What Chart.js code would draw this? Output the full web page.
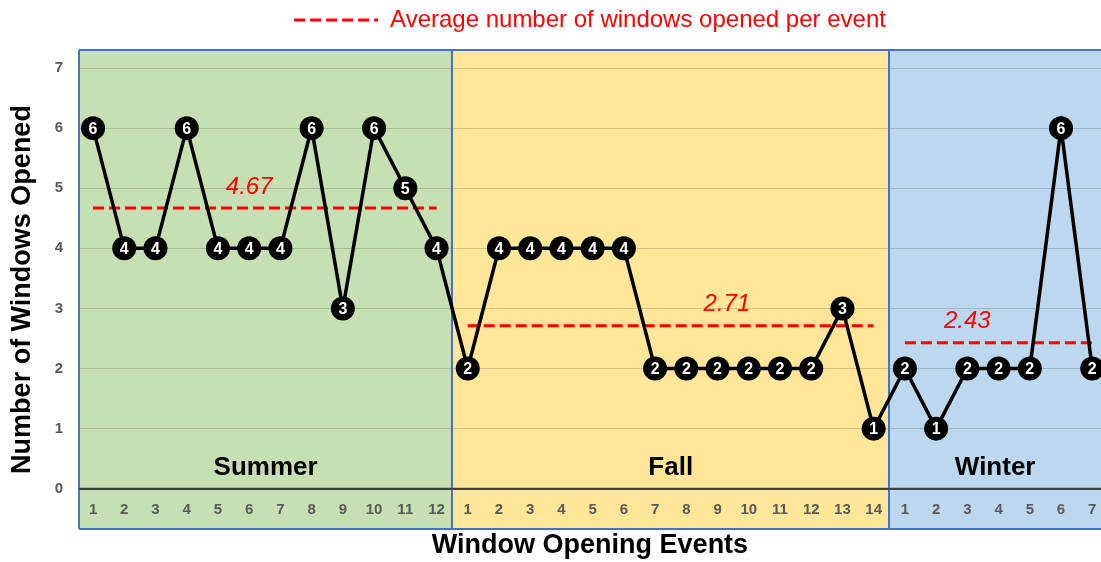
<!DOCTYPE html>
<html>
<head>
<meta charset="utf-8">
<script src="https://cdn.jsdelivr.net/npm/chart.js@4/dist/chart.umd.min.js"></script>
<style>
  html, body { margin: 0; padding: 0; background: #fff; }
  #wrap { width: 1101px; height: 562px; }
</style>
</head>
<body>
<div id="wrap"><canvas id="chartCanvas" width="1101" height="562"></canvas></div>
<script>
// ---- data ----
const seasonNames = ["Summer", "Fall", "Winter"];
const summerValues = [6, 4, 4, 6, 4, 4, 4, 6, 3, 6, 5, 4];
const fallValues = [2, 4, 4, 4, 4, 4, 2, 2, 2, 2, 2, 2, 3, 1];
const winterValues = [2, 1, 2, 2, 2, 6, 2];
const seasonAverages = [4.67, 2.71, 2.43];
const averageLabels = ["4.67", "2.71", "2.43"];
const yTicks = [0, 1, 2, 3, 4, 5, 6, 7];
const legendText = "Average number of windows opened per event";

// ---- style / placement ----
const FONT = "'Liberation Sans', Arial, sans-serif";
const bandColors = ["#C6E0B4", "#FFE699", "#BDD7EE"];
const edgeBlue = "#4472C4";
const avgDash = [11, 5];
const avgLabelX = [6.0, 21.3, 29.0];   // where the average figures sit (event index)
const avgLabelLift = 0.35;
const seasonLabelY = 0.35;
const tickRowY = -0.35;

const seasons = [summerValues, fallValues, winterValues];
const allValues = [].concat(...seasons);

// start/end index (1-based, continuous) of every season
const ranges = [];
let pos = 1;
seasons.forEach(s => {
  ranges.push({ start: pos, end: pos + s.length - 1 });
  pos += s.length;
});

const mainPoints = allValues.map((v, i) => ({ x: i + 1, y: v }));

const avgDatasets = ranges.map((r, i) => ({
  label: legendText,
  data: [{ x: r.start, y: seasonAverages[i] }, { x: r.end, y: seasonAverages[i] }],
  borderColor: "#FF0000",
  backgroundColor: "#FF0000",
  borderWidth: 3,
  borderDash: avgDash,
  pointRadius: 0,
  fill: false
}));

// ===============================
// backgrounds, dividers, labels
// ===============================
const seasonPlugin = {
  id: "seasonPlugin",
  beforeDraw(chart) {
    const { ctx, chartArea, scales } = chart;
    const x = scales.x;
    ctx.save();
    ranges.forEach((r, i) => {
      const left = Math.max(chartArea.left, x.getPixelForValue(r.start - 0.5));
      const right = Math.min(chartArea.right, x.getPixelForValue(r.end + 0.5));
      ctx.fillStyle = bandColors[i];
      ctx.fillRect(left, chartArea.top, right - left, chartArea.bottom - chartArea.top);
    });
    ctx.restore();
  },
  beforeDatasetsDraw(chart) {
    const { ctx, chartArea, scales } = chart;
    const x = scales.x, y = scales.y;
    ctx.save();

    // event numbers inside the bottom strip
    ctx.font = "bold 15px " + FONT;
    ctx.fillStyle = "#595959";
    ctx.textAlign = "center";
    ctx.textBaseline = "middle";
    ranges.forEach(r => {
      for (let k = r.start; k <= r.end; k++) {
        ctx.fillText(String(k - r.start + 1), x.getPixelForValue(k), y.getPixelForValue(tickRowY));
      }
    });

    // season names
    ctx.font = "bold 26px " + FONT;
    ctx.fillStyle = "#000";
    ranges.forEach((r, i) => {
      const left = Math.max(chartArea.left, x.getPixelForValue(r.start - 0.5));
      const right = Math.min(chartArea.right, x.getPixelForValue(r.end + 0.5));
      ctx.fillText(seasonNames[i], (left + right) / 2, y.getPixelForValue(seasonLabelY));
    });

    // blue frame + dividers
    ctx.strokeStyle = edgeBlue;
    ctx.lineWidth = 2;
    ctx.beginPath();
    ctx.moveTo(chartArea.left, chartArea.top);
    ctx.lineTo(chartArea.right, chartArea.top);
    ctx.moveTo(chartArea.left, chartArea.top);
    ctx.lineTo(chartArea.left, chartArea.bottom);
    ctx.moveTo(chartArea.left, chartArea.bottom);
    ctx.lineTo(chartArea.right, chartArea.bottom);
    ranges.slice(1).forEach(r => {
      const px = Math.round(x.getPixelForValue(r.start - 0.5));
      ctx.moveTo(px, chartArea.top);
      ctx.lineTo(px, chartArea.bottom);
    });
    ctx.stroke();

    // zero line on top of the dividers
    ctx.strokeStyle = "#404040";
    ctx.beginPath();
    ctx.moveTo(chartArea.left, y.getPixelForValue(0));
    ctx.lineTo(chartArea.right, y.getPixelForValue(0));
    ctx.stroke();
    ctx.restore();
  },
  afterDatasetsDraw(chart) {
    const { ctx, scales } = chart;
    const x = scales.x, y = scales.y;
    ctx.save();
    ctx.textAlign = "center";
    ctx.textBaseline = "middle";

    // values in the markers
    ctx.font = "bold 16px " + FONT;
    ctx.fillStyle = "#fff";
    chart.getDatasetMeta(0).data.forEach((pt, i) => {
      ctx.fillText(String(allValues[i]), pt.x, pt.y + 1);
    });

    // average figures
    ctx.font = "italic 24px " + FONT;
    ctx.fillStyle = "#FF0000";
    seasonAverages.forEach((a, i) => {
      ctx.fillText(averageLabels[i], x.getPixelForValue(avgLabelX[i]), y.getPixelForValue(a + avgLabelLift));
    });
    ctx.restore();
  }
};

// ===============================
// chart
// ===============================
const ctx = document.getElementById("chartCanvas").getContext("2d");

new Chart(ctx, {
  type: "line",
  data: {
    datasets: [
      {
        label: "Windows opened",
        data: mainPoints,
        borderColor: "#000",
        backgroundColor: "#000",
        borderWidth: 3.5,
        pointRadius: 12,
        pointBorderWidth: 0,
        pointBackgroundColor: "#000",
        tension: 0,
        fill: false
      },
      ...avgDatasets
    ]
  },
  options: {
    responsive: false,
    animation: false,
    layout: { autoPadding: false, padding: 0 },
    plugins: {
      tooltip: { enabled: false },
      // empty spacer between legend and plot area
      title: { display: true, text: "", padding: 0, font: { size: 8, lineHeight: 1 } },
      legend: {
        display: true,
        position: "top",
        fullSize: false,
        weight: 3000,
        labels: {
          color: "#FF0000",
          font: { family: FONT, size: 24 },
          usePointStyle: true,
          pointStyleWidth: 84,
          padding: 8,
          generateLabels: () => [{
            text: legendText,
            fillStyle: "#FF0000",
            strokeStyle: "#FF0000",
            fontColor: "#FF0000",
            lineWidth: 3,
            lineDash: avgDash,
            pointStyle: "line",
            hidden: false,
            datasetIndex: 1
          }]
        }
      }
    },
    scales: {
      x: {
        type: "linear",
        min: 0.55,
        max: 33.28,
        grid: { display: false },
        border: { display: false },
        ticks: { display: false },
        title: {
          display: true,
          text: "Window Opening Events",
          color: "#000",
          font: { family: FONT, size: 27, weight: "bold" },
          padding: { top: 0, bottom: 0 }
        },
        afterFit: s => { s.height = 33; }
      },
      y: {
        min: -0.67,
        max: 7.3,
        afterBuildTicks: s => { s.ticks = yTicks.map(v => ({ value: v })); },
        grid: {
          drawTicks: false,
          color: c => (c.tick && c.tick.value === 0 ? "#404040" : "rgba(0,0,0,0.16)"),
          lineWidth: c => (c.tick && c.tick.value === 0 ? 2 : 1)
        },
        border: { display: false },
        ticks: {
          color: "#595959",
          padding: 16,
          font: { family: FONT, size: 15, weight: "bold" }
        },
        title: {
          display: true,
          text: "Number of Windows Opened",
          color: "#000",
          font: { family: FONT, size: 27, weight: "bold" },
          padding: { top: 6, bottom: 0 }
        },
        afterFit: s => { s.width = 79; }
      }
    }
  },
  plugins: [seasonPlugin]
});
</script>
</body>
</html>
